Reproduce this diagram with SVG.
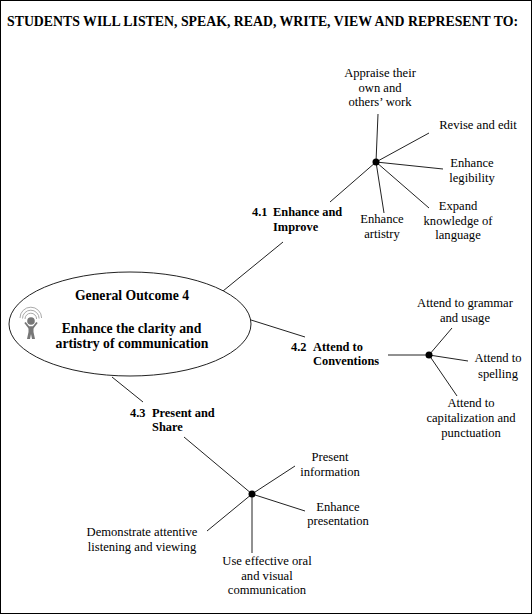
<svg xmlns="http://www.w3.org/2000/svg" width="532" height="614" viewBox="0 0 532 614">
<style>
text{font-family:"Liberation Serif","Times New Roman",serif;font-size:12.6px;fill:#000;text-anchor:middle}
.b{font-weight:bold;font-size:12.4px}
.s{text-anchor:start}
.m{font-weight:bold;font-size:13.7px}
.l{fill:none;stroke:#222;stroke-width:1}
.n{fill:#000}
</style>
<rect x="0.5" y="0.5" width="531" height="613" fill="#fff" stroke="#000" stroke-width="1"/>
<text id="title" x="7" y="26" style="font-size:14px;font-weight:bold;text-anchor:start" textLength="511" lengthAdjust="spacingAndGlyphs">STUDENTS WILL LISTEN, SPEAK, READ, WRITE, VIEW AND REPRESENT TO:</text>
<g id="connectors" class="l">
<path d="M223 291L283 242"/>
<path d="M251 320L305 337"/>
<path d="M112 377L143 402"/>
<path d="M184 437L252 494"/>
<path d="M330 202L376 162"/>
<path d="M376 162L378 114"/>
<path d="M376 162L429 133"/>
<path d="M376 162L443 169"/>
<path d="M376 162L429 208"/>
<path d="M376 162L384 213"/>
<path d="M388 355L429 355"/>
<path d="M429 355L452 328"/>
<path d="M429 355L468 361"/>
<path d="M429 355L457 396"/>
<path d="M252 494L295 466"/>
<path d="M252 494L305 511"/>
<path d="M252 494L252 553"/>
<path d="M252 494L207 531"/>
</g>
<g id="outcome">
<ellipse cx="130" cy="324" rx="121" ry="52" fill="#fff" stroke="#222"/>
<text class="m" x="132" y="300">General Outcome 4</text>
<text class="m" x="131.500" y="333">Enhance the clarity and</text>
<text class="m" x="132" y="348">artistry of communication</text>
<g fill="none" stroke="#aaa" stroke-width="1">
<path d="M20 318a10.800 10.800 0 0 1 21.600 0"/>
<path d="M22.500 318.500a8.300 8.300 0 0 1 16.600 0"/>
<path d="M25 319a5.800 5.800 0 0 1 11.600 0"/>
</g>
<circle cx="31" cy="321" r="3.800" fill="#777"/>
<path d="M25 322.500L29 327.500H33L37 322.500" fill="none" stroke="#777" stroke-width="1.800"/>
<path d="M28.500 326.500H33.500V332L35 339H32L31 334L30 339H27L28.500 332Z" fill="#777"/>
</g>
<g id="hub41"><circle class="n" cx="376" cy="162" r="3.500"/></g>
<g id="hub42"><circle class="n" cx="429" cy="355" r="3.500"/></g>
<g id="hub43"><circle class="n" cx="252" cy="494" r="3.500"/></g>
<g id="n41"><text class="b s" x="252" y="216">4.1</text><text class="b s" x="273" y="216">Enhance and</text><text class="b s" x="273" y="231">Improve</text></g>
<g id="n42"><text class="b s" x="291" y="351">4.2</text><text class="b s" x="313" y="351">Attend to</text><text class="b s" x="313" y="365">Conventions</text></g>
<g id="n43"><text class="b s" x="130" y="417">4.3</text><text class="b s" x="152" y="417">Present and</text><text class="b s" x="152" y="431">Share</text></g>
<g id="a1"><text x="380" y="77">Appraise their</text><text x="380" y="92">own and</text><text x="380" y="106">others’ work</text></g>
<g id="a2"><text x="478" y="129">Revise and edit</text></g>
<g id="a3"><text x="472" y="167">Enhance</text><text x="472" y="182">legibility</text></g>
<g id="a4"><text x="458" y="210">Expand</text><text x="458" y="225">knowledge of</text><text x="458" y="239">language</text></g>
<g id="a5"><text x="382" y="223">Enhance</text><text x="382" y="238">artistry</text></g>
<g id="b1"><text x="465" y="307">Attend to grammar</text><text x="465" y="322">and usage</text></g>
<g id="b2"><text x="498" y="362">Attend to</text><text x="498" y="378">spelling</text></g>
<g id="b3"><text x="471" y="407">Attend to</text><text x="471" y="422">capitalization and</text><text x="471" y="437">punctuation</text></g>
<g id="c1"><text x="330" y="461">Present</text><text x="330" y="476">information</text></g>
<g id="c2"><text x="338" y="511">Enhance</text><text x="338" y="525">presentation</text></g>
<g id="c3"><text x="267" y="565">Use effective oral</text><text x="267" y="580">and visual</text><text x="267" y="594">communication</text></g>
<g id="c4"><text x="142" y="536">Demonstrate attentive</text><text x="142" y="551">listening and viewing</text></g>
</svg>
